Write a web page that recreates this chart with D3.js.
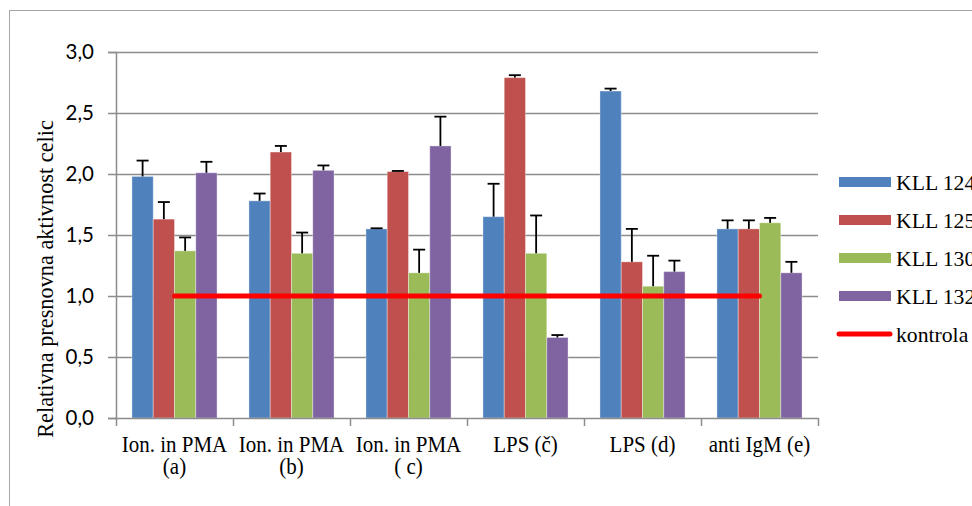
<!DOCTYPE html>
<html>
<head>
<meta charset="utf-8">
<script src="https://cdn.jsdelivr.net/npm/d3@7"></script>
<style>
  html, body { margin: 0; padding: 0; background: #fff; }
  svg { display: block; }
</style>
</head>
<body>
<svg id="chart" width="972" height="506"></svg>
<script>
// Treatments (category axis), two-line labels
const categories = ["a", "b", "c", "č", "d", "e"];
const categoryLabels = [
  ["Ion. in PMA", "(a)"],
  ["Ion. in PMA", "(b)"],
  ["Ion. in PMA", "( c)"],
  ["LPS (č)"],
  ["LPS (d)"],
  ["anti IgM (e)"]
];

// Cell lines
const seriesNames = ["KLL 124", "KLL 125", "KLL 130", "KLL 132"];
const seriesColors = ["#4F81BD", "#C0504D", "#9BBB59", "#8064A2"];

// Mean relative metabolic activity per cell line
const kll124 = [1.98, 1.78, 1.55, 1.65, 2.68, 1.55];
const kll125 = [1.63, 2.18, 2.02, 2.79, 1.28, 1.55];
const kll130 = [1.37, 1.35, 1.19, 1.35, 1.08, 1.60];
const kll132 = [2.01, 2.03, 2.23, 0.66, 1.20, 1.19];

// Upper error (standard deviation) per cell line
const err124 = [0.13, 0.06, 0.005, 0.27, 0.02, 0.07];
const err125 = [0.14, 0.05, 0.005, 0.02, 0.27, 0.07];
const err130 = [0.11, 0.17, 0.19, 0.31, 0.25, 0.04];
const err132 = [0.09, 0.04, 0.24, 0.02, 0.09, 0.09];

// Control level
const kontrola = [1, 1, 1, 1, 1, 1];

const yTicks = [0, 0.5, 1.0, 1.5, 2.0, 2.5, 3.0];

const values = [kll124, kll125, kll130, kll132];
const errors = [err124, err125, err130, err132];

const serif = "'Liberation Serif', 'Times New Roman', serif";

const svg = d3.select("#chart");

const plot = { left: 116, right: 818, top: 52, bottom: 418 };

// Outer chart frame
svg.append("rect")
  .attr("x", 9.5).attr("y", 10.5)
  .attr("width", 1000).attr("height", 520)
  .attr("fill", "#fff")
  .attr("stroke", "#a6a6a6").attr("stroke-width", 1);

const x = d3.scaleBand()
  .domain(categories)
  .range([plot.left, plot.right])
  .paddingInner(0).paddingOuter(0);

const xInner = d3.scaleBand()
  .domain(seriesNames)
  .range([0, x.bandwidth()])
  .paddingInner(0)
  .paddingOuter(0.75);

const y = d3.scaleLinear()
  .domain([0, 3])
  .range([plot.bottom, plot.top]);

// Gridlines
svg.append("g")
  .selectAll("line")
  .data(yTicks.filter(d => d > 0))
  .join("line")
  .attr("x1", plot.left).attr("x2", plot.right)
  .attr("y1", d => Math.round(y(d)) + 0.5)
  .attr("y2", d => Math.round(y(d)) + 0.5)
  .attr("stroke", "#8c8c8c").attr("stroke-width", 1.5);

// Y axis
const yAxis = d3.axisLeft(y)
  .tickValues(yTicks)
  .tickSize(8)
  .tickPadding(14)
  .tickFormat(d => d3.format(".1f")(d).replace(".", ","));

const yg = svg.append("g")
  .attr("transform", `translate(${plot.left},0)`)
  .call(yAxis);
yg.select(".domain").attr("stroke", "#8c8c8c").attr("stroke-width", 1.5);
yg.selectAll(".tick line").attr("stroke", "#8c8c8c").attr("stroke-width", 1.5);
yg.selectAll(".tick text")
  .attr("font-family", "Lato, 'Open Sans', sans-serif")
  .attr("font-size", 20.5)
  .attr("fill", "#000");

// Bars
const groups = svg.append("g")
  .selectAll("g")
  .data(seriesNames.map((name, i) => ({ name, i })))
  .join("g")
  .attr("fill", d => seriesColors[d.i]);

groups.selectAll("rect")
  .data(d => categories.map((c, j) => ({ c, s: d.name, v: values[d.i][j] })))
  .join("rect")
  .attr("x", d => x(d.c) + xInner(d.s))
  .attr("width", xInner.bandwidth())
  .attr("y", d => y(d.v))
  .attr("height", d => y(0) - y(d.v))
  .attr("stroke", "rgba(255,255,255,0.35)")
  .attr("stroke-width", 1);

// Error bars (plus direction with cap)
const capHalf = 6;
const errG = svg.append("g")
  .attr("stroke", "#000")
  .attr("stroke-width", 1.8)
  .attr("fill", "none");
seriesNames.forEach((name, i) => {
  categories.forEach((c, j) => {
    const cx = x(c) + xInner(name) + xInner.bandwidth() / 2;
    const top = y(values[i][j] + errors[i][j]);
    const base = y(values[i][j]);
    errG.append("line")
      .attr("x1", cx).attr("x2", cx)
      .attr("y1", base).attr("y2", top);
    errG.append("line")
      .attr("x1", cx - capHalf).attr("x2", cx + capHalf)
      .attr("y1", top).attr("y2", top);
  });
});

// X axis
const xAxis = d3.axisBottom(x).tickSize(0).tickFormat("");
const xg = svg.append("g")
  .attr("transform", `translate(0,${plot.bottom})`)
  .call(xAxis);
xg.select(".domain").attr("stroke", "#8c8c8c").attr("stroke-width", 1.5);
xg.selectAll(".tick").remove();

// Category boundary tick marks
svg.append("g")
  .selectAll("line")
  .data(d3.range(categories.length + 1))
  .join("line")
  .attr("x1", k => Math.round(plot.left + k * x.bandwidth()) + 0.5)
  .attr("x2", k => Math.round(plot.left + k * x.bandwidth()) + 0.5)
  .attr("y1", plot.bottom).attr("y2", plot.bottom + 8)
  .attr("stroke", "#8c8c8c").attr("stroke-width", 1.5);

// Category labels (slightly tall serif lettering)
const labelG = svg.append("g")
  .attr("font-family", serif)
  .attr("font-size", 21)
  .attr("fill", "#000")
  .attr("text-anchor", "middle");
categories.forEach((c, j) => {
  categoryLabels[j].forEach((line, k) => {
    labelG.append("text")
      .attr("transform", `translate(${x(c) + x.bandwidth() / 2},${451.5 + k * 22}) scale(1,1.12)`)
      .text(line);
  });
});

// Control line
const line = d3.line()
  .x((d, j) => x(categories[j]) + x.bandwidth() / 2)
  .y(d => y(d));
svg.append("path")
  .datum(kontrola)
  .attr("d", line)
  .attr("fill", "none")
  .attr("stroke", "#ff0000")
  .attr("stroke-width", 5)
  .attr("stroke-linecap", "round");

// Y axis title
svg.append("text")
  .attr("transform", "translate(53,279) rotate(-90)")
  .attr("text-anchor", "middle")
  .attr("font-family", serif)
  .attr("font-size", 22.3)
  .attr("fill", "#000")
  .text("Relativna presnovna aktivnost celic");

// Legend
const legend = svg.append("g");
const legendY0 = 182, legendStep = 38;
seriesNames.forEach((name, i) => {
  const ly = legendY0 + i * legendStep;
  legend.append("rect")
    .attr("x", 839).attr("y", ly - 5)
    .attr("width", 52).attr("height", 10)
    .attr("fill", seriesColors[i]);
  legend.append("text")
    .attr("x", 896).attr("y", ly)
    .attr("dy", "0.35em")
    .attr("font-family", serif)
    .attr("font-size", 21.7)
    .text(name);
});
const ky = legendY0 + 4 * legendStep;
legend.append("line")
  .attr("x1", 839).attr("x2", 890)
  .attr("y1", ky).attr("y2", ky)
  .attr("stroke", "#ff0000").attr("stroke-width", 5)
  .attr("stroke-linecap", "round");
legend.append("text")
  .attr("x", 896).attr("y", ky)
  .attr("dy", "0.35em")
  .attr("font-family", serif)
  .attr("font-size", 21.7)
  .text("kontrola");
</script>
</body>
</html>
